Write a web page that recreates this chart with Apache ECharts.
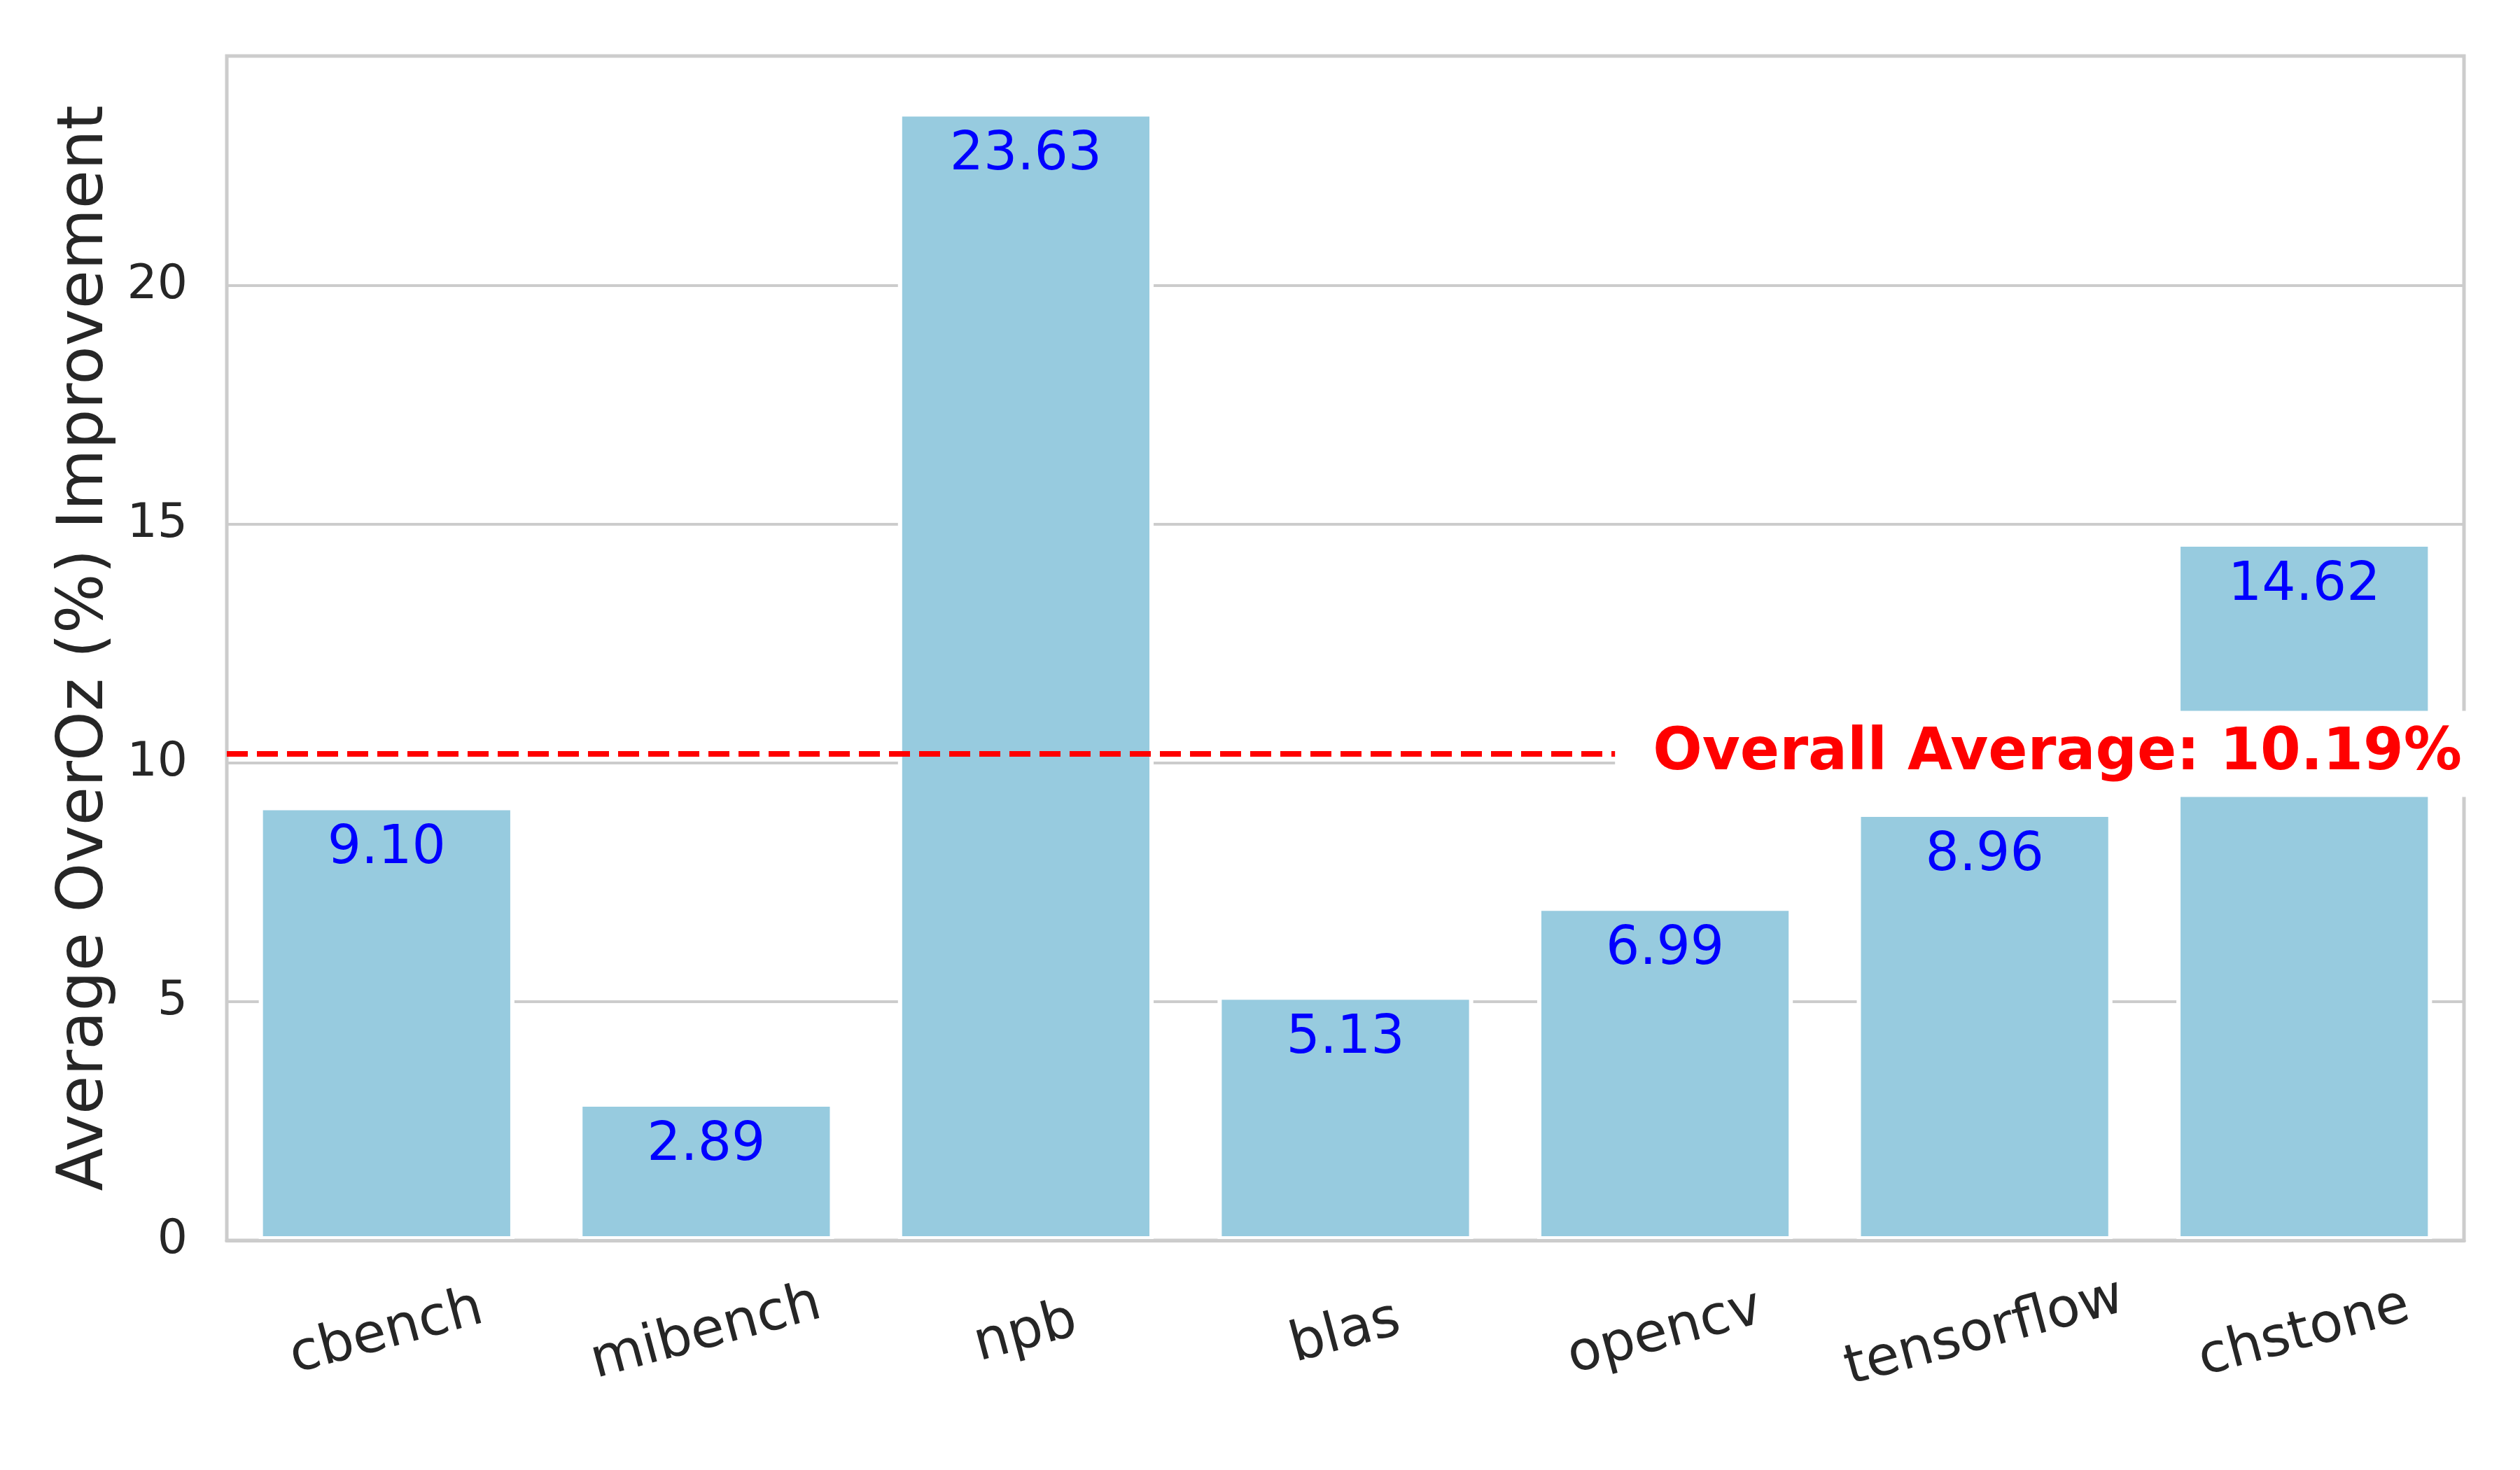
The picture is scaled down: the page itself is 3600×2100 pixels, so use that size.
<!DOCTYPE html>
<html>
<head>
<meta charset="utf-8">
<title>Average OverOz Improvement</title>
<script src="https://cdn.jsdelivr.net/npm/echarts@6/dist/echarts.min.js"></script>
<style>
    html, body { margin: 0; padding: 0; background: #fff; }
    #bar { width: 3600px; height: 2100px; }
</style>
</head>
<body>
<div id="bar"></div>
<script>
// 数据
var categories = ["cbench", "mibench", "npb", "blas", "opencv", "tensorflow", "chstone"];
var improvements = [9.10, 2.89, 23.63, 5.13, 6.99, 8.96, 14.62];
var overallAverage = 10.19;
var yTicks = [0, 5, 10, 15, 20];
var yMax = 24.81;

var barChart = {
    init : function() {
        barChart.funcs.render();
    }
    ,funcs : {
        render : function() {
            var myChart = echarts.init(document.getElementById('bar'));
            var font = "DejaVu Sans";
            var option = {
                animation : false,
                backgroundColor : '#fff',
                grid : {
                    left : 324,
                    right : 80,
                    top : 80,
                    bottom : 328,
                    show : true,
                    borderColor : '#cccccc',
                    borderWidth : 5,
                    containLabel : false,
                    outerBoundsMode : 'none'
                },
                xAxis : {
                    type : 'category',
                    data : categories,
                    z : 3,
                    axisTick : { show : false },
                    axisLine : { show : true, lineStyle : { color : '#cccccc', width : 5 } },
                    splitLine : { show : false },
                    axisLabel : {
                        rotate : 15,
                        align : 'center',
                        verticalAlign : 'middle',
                        margin : 133,
                        fontSize : 78,
                        fontFamily : font,
                        color : '#262626'
                    }
                },
                yAxis : {
                    type : 'value',
                    min : 0,
                    max : yMax,
                    interval : 5,
                    name : 'Average OverOz (%) Improvement',
                    nameLocation : 'middle',
                    nameGap : 156,
                    nameTextStyle : { fontSize : 90, fontFamily : font, color : '#262626' },
                    axisLine : { show : false },
                    axisTick : { show : false },
                    splitLine : { show : true, lineStyle : { color : '#cccccc', width : 4 } },
                    axisLabel : {
                        showMaxLabel : false,
                        margin : 56,
                        fontSize : 68,
                        fontFamily : font,
                        color : '#262626',
                        formatter : function(v) {
                            return yTicks.indexOf(v) >= 0 ? String(v) : '';
                        }
                    }
                },
                series : [
                    {
                        name : 'improvement',
                        type : 'bar',
                        data : improvements,
                        barCategoryGap : '20%',
                        itemStyle : { color : '#97cbdf', borderColor : '#ffffff', borderWidth : 6 },
                        label : {
                            show : true,
                            position : 'insideTop',
                            distance : 24,
                            fontSize : 76,
                            fontFamily : font,
                            color : '#0000ff',
                            formatter : function(p) { return p.value.toFixed(2); }
                        },
                        markLine : {
                            silent : true,
                            symbol : ['none', 'none'],
                            lineStyle : { color : '#ff0000', width : 8, type : [30, 13], opacity : 1 },
                            label : {
                                show : true,
                                position : 'insideEndTop',
                                verticalAlign : 'middle',
                                distance : [-51, 0],
                                backgroundColor : '#ffffff',
                                padding : [20, 54, 20, 54],
                                fontSize : 83,
                                fontWeight : 'bold',
                                fontFamily : font,
                                color : '#ff0000',
                                formatter : 'Overall Average: ' + overallAverage.toFixed(2) + '%'
                            },
                            data : [ { yAxis : overallAverage } ]
                        }
                    }
                ]
            };
            myChart.setOption(option, true);
        }
    }
};
barChart.init();
</script>
</body>
</html>
